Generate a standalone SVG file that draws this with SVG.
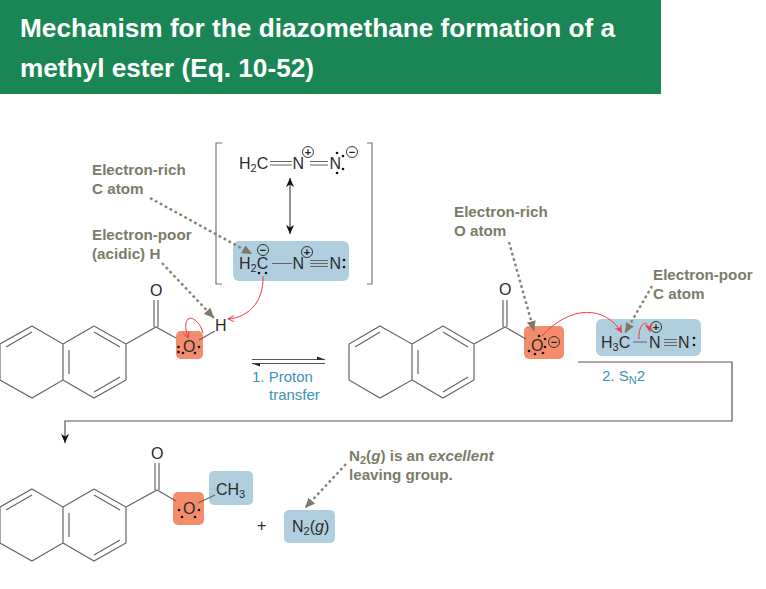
<svg xmlns="http://www.w3.org/2000/svg" width="766" height="589" viewBox="0 0 766 589">
<style>
text{font-family:"Liberation Sans",Arial,sans-serif}
.h{font-size:26.2px;font-weight:700;fill:#fff}
.n{font-size:15.2px;font-weight:700;fill:#7b7b69}
.t{font-size:16px;fill:#2b2b2b}
.s{font-size:11px}
.b{font-size:15px;fill:#3a93b5}
.l{fill:none;stroke:#666;stroke-width:1.2}
.g{fill:none;stroke:#85856f;stroke-width:2.400;stroke-dasharray:2.800 2.800}
.r{fill:none;stroke:#ef3e4a;stroke-width:1}
.blue{fill:#afcfdf}
.or{fill:#f48d6e}
.c{fill:none;stroke:#222;stroke-width:.9}
.d{fill:#111}
.cs{font-size:11px;font-weight:700;fill:#222;text-anchor:middle}
</style>
<defs>
<marker id="ga" markerWidth="11" markerHeight="10" refX="10" refY="5" orient="auto" markerUnits="userSpaceOnUse"><path d="M0 .5L10 5L0 9.500Z" fill="#7b7b69"/></marker>
<marker id="ra" markerWidth="9" markerHeight="9" refX="8" refY="4.500" orient="auto" markerUnits="userSpaceOnUse"><path d="M0 .5L8 4.500L0 8.500L2.500 4.500Z" fill="#ef3e4a"/></marker>
<marker id="rb" markerWidth="8" markerHeight="8" refX="7" refY="4" orient="auto" markerUnits="userSpaceOnUse"><path d="M1 1L7 4L1 7" fill="none" stroke="#ef3e4a" stroke-width="1"/></marker>
<marker id="ka" markerWidth="10" markerHeight="10" refX="9" refY="5" orient="auto" markerUnits="userSpaceOnUse"><path d="M0 1L9 5L0 9L2.500 5Z" fill="#111"/></marker>
<marker id="kb" markerWidth="10" markerHeight="10" refX="0" refY="5" orient="auto" markerUnits="userSpaceOnUse"><path d="M9 1L0 5L9 9L6.500 5Z" fill="#111"/></marker>
</defs>
<g id="header"><rect x="0" y="0" width="661" height="94" fill="#1a8656"/><text class="h" x="20" y="37">Mechanism for the diazomethane formation of a</text><text class="h" x="20" y="77">methyl ester (Eq. 10-52)</text></g>
<g id="brackets"><path d="M222 143H216V284H222M367 143H372V284H367" fill="none" stroke="#777" stroke-width="1.200"/></g>
<g id="label-rich-c"><text class="n" x="92" y="175">Electron-rich</text><text class="n" x="92" y="194">C atom</text></g>
<g id="label-poor-h"><text class="n" x="92" y="240">Electron-poor</text><text class="n" x="92" y="259">(acidic) H</text></g>
<g id="label-rich-o"><text class="n" x="454" y="217">Electron-rich</text><text class="n" x="454" y="236">O atom</text></g>
<g id="label-poor-c"><text class="n" x="653" y="280">Electron-poor</text><text class="n" x="653" y="299">C atom</text></g>
<g id="label-n2"><text class="n" x="349" y="461">N<tspan class="s" dy="3">2</tspan><tspan dy="-3">(</tspan><tspan font-style="italic">g</tspan>) is an <tspan font-style="italic">excellent</tspan></text><text class="n" x="349" y="480">leaving group.</text></g>
<g id="diazo-top"><text class="t" x="239" y="169">H<tspan class="s" dy="3">2</tspan><tspan dy="-3">C</tspan></text><path class="l" d="M270 161.500H292M270 165H292M310 161.500H328M310 165H328"/><text class="t" x="292.500" y="169">N</text><text class="t" x="329.500" y="169">N</text><circle class="c" cx="308" cy="152" r="5.500"/><text class="cs" x="308" y="156">+</text><circle class="c" cx="352" cy="152" r="5.500"/><text class="cs" x="352" y="155.500">−</text><circle class="d" cx="337" cy="153" r="1.300"/><circle class="d" cx="337" cy="173" r="1.300"/><circle class="d" cx="343" cy="156" r="1.300"/><circle class="d" cx="343" cy="169" r="1.300"/></g>
<g id="diazo-bottom"><rect class="blue" x="233" y="241" width="116" height="40" rx="6"/><text class="t" x="239" y="269">H<tspan class="s" dy="3">2</tspan><tspan dy="-3">C</tspan></text><path class="l" d="M272 263.500H292M310 260.500H328M310 263.500H328M310 266.500H328"/><text class="t" x="292.500" y="269">N</text><text class="t" x="329.500" y="269">N</text><circle class="d" cx="344" cy="260" r="1.300"/><circle class="d" cx="344" cy="267" r="1.300"/><circle class="d" cx="259" cy="273" r="1.300"/><circle class="d" cx="266" cy="273" r="1.300"/><circle class="c" cx="263" cy="250" r="5.500"/><text class="cs" x="263" y="253.500">−</text><circle class="c" cx="307" cy="252" r="5.500"/><text class="cs" x="307" y="256">+</text></g>
<g id="acid"><rect class="or" x="176" y="331" width="27" height="28" rx="5"/><path class="l" d="M32 326L63 344V380L32 398L0 380V344ZM94 326L126 344V380L94 398L63 380M63 344L94 326M6 347L32 332M69 350V374M94 392L120 377M94 332L120 347M126 344L156 327L176 338M154 327V300M158 327V300M199 340L215 331"/><text class="t" x="150" y="296">O</text><text class="t" x="183" y="352">O</text><text class="t" x="215" y="331">H</text><circle class="d" cx="178.500" cy="347" r="1.300"/><circle class="d" cx="178.500" cy="352" r="1.300"/><circle class="d" cx="199" cy="347" r="1.300"/><circle class="d" cx="183" cy="353" r="1.300"/><circle class="d" cx="195" cy="353" r="1.300"/></g>
<g id="anion"><rect class="or" x="524" y="326" width="40" height="33" rx="5"/><path class="l" d="M380 326L412 344V380L380 398L349 380V344ZM443 326L474 344V380L443 398L412 380M412 344L443 326M355 347L380 332M418 350V374M443 392L468 377M443 332L468 347M474 344L505 327L526 339M503 327V300M507 327V300"/><text class="t" x="499" y="295">O</text><text class="t" x="531" y="351">O</text><circle class="c" cx="554" cy="342" r="5.500"/><text class="cs" x="554" y="345.500">−</text><circle class="d" cx="529" cy="351" r="1.300"/><circle class="d" cx="535" cy="354" r="1.300"/><circle class="d" cx="543" cy="353" r="1.300"/><circle class="d" cx="545" cy="339" r="1.300"/><circle class="d" cx="545" cy="347" r="1.300"/><circle class="d" cx="539" cy="336" r="1.300"/></g>
<g id="methyldiazonium"><rect class="blue" x="596" y="319" width="105" height="37" rx="6"/><text class="t" x="601" y="348">H<tspan class="s" dy="3">3</tspan><tspan dy="-3">C</tspan></text><path class="l" d="M633 342H647M664 339.500H677M664 342.500H677M664 345.500H677"/><text class="t" x="649" y="348">N</text><text class="t" x="678" y="348">N</text><circle class="d" cx="694" cy="338" r="1.300"/><circle class="d" cx="694" cy="345" r="1.300"/><circle class="c" cx="656" cy="327" r="5.500"/><text class="cs" x="656" y="331">+</text></g>
<g id="ester"><rect class="or" x="173" y="492" width="31" height="33" rx="5"/><rect class="blue" x="209" y="471" width="44" height="34" rx="5"/><path class="l" d="M32 489L63 507V543L32 561L0 543V507ZM94 489L126 507V543L94 561L63 543M63 507L94 489M6 510L32 495M69 513V537M94 555L120 540M94 495L120 510M126 507L157 490L176 501M155 490V463M159 490V463M198 503L215 495"/><text class="t" x="151" y="459">O</text><text class="t" x="183" y="514">O</text><text class="t" x="216" y="495">CH<tspan class="s" dy="3">3</tspan></text><circle class="d" cx="179" cy="510" r="1.300"/><circle class="d" cx="199" cy="510" r="1.300"/><circle class="d" cx="182" cy="517" r="1.300"/><circle class="d" cx="195" cy="517" r="1.300"/></g>
<g id="plus"><text class="t" x="257" y="531">+</text></g>
<g id="n2"><rect class="blue" x="284" y="510" width="51" height="33" rx="5"/><text class="t" x="292" y="532">N<tspan class="s" dy="3">2</tspan><tspan dy="-3">(</tspan><tspan font-style="italic">g</tspan>)</text></g>
<g id="step-labels"><text class="b" x="252" y="382">1. Proton</text><text class="b" x="269" y="400">transfer</text><text class="b" x="602" y="381">2. S<tspan class="s" dy="3">N</tspan><tspan dy="-3">2</tspan></text></g>
<g id="connectors">
<path class="g" d="M150 198L252 254" marker-end="url(#ga)"/>
<path class="g" d="M162 263L214 318" marker-end="url(#ga)"/>
<path class="g" d="M509 242L534 331" marker-end="url(#ga)"/>
<path class="g" d="M652 286L625 333" marker-end="url(#ga)"/>
<path class="g" d="M346 464L305 508" marker-end="url(#ga)"/>
<path class="r" d="M263 276C264 305 245 318 228 319" marker-end="url(#rb)"/>
<path class="r" d="M203 333C200 322 192 316 188 319C184 323 186 332 188 338" marker-end="url(#rb)"/>
<path class="r" d="M542 336C570 305 605 305 622 333" marker-end="url(#ra)"/>
<path class="r" d="M639 339C638 325 647 316 650 332" marker-end="url(#ra)"/>
<path d="M290 178V234" fill="none" stroke="#333" stroke-width="1.100" marker-start="url(#kb)" marker-end="url(#ka)"/>
<path d="M252 359.500H325M252 363.500H325" fill="none" stroke="#555" stroke-width="1.200"/>
<path d="M317 356.500L325 359.500H317ZM260 366.500L252 363.500H260Z" fill="#222"/>
<path d="M578 362H732V421H65V443" fill="none" stroke="#555" stroke-width="1.200" marker-end="url(#ka)"/>
</g>
</svg>
